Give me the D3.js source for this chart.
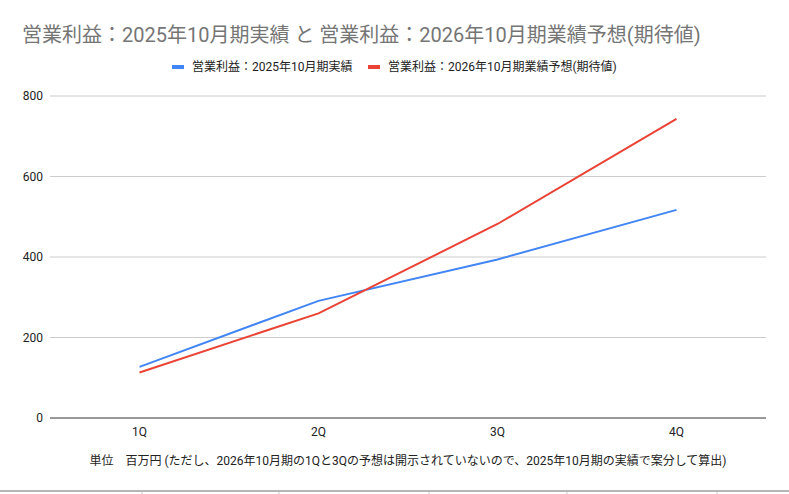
<!DOCTYPE html>
<html>
<head>
<meta charset="utf-8">
<script src="https://cdn.jsdelivr.net/npm/d3@7"></script>
<style>
  body { margin: 0; background: #fff; }
  text { font-family: Roboto, "Noto Sans CJK JP", sans-serif; }
</style>
</head>
<body>
<svg id="chart" width="789" height="494"></svg>
<script>
// data
var quarters = ['1Q', '2Q', '3Q', '4Q'];
var actual2025 = [127, 291, 394, 517];
var forecast2026 = [113, 260, 482, 743];
var yTicks = [0, 200, 400, 600, 800];
var seriesNames = ['営業利益：2025年10月期実績', '営業利益：2026年10月期業績予想(期待値)'];
var seriesColors = ['#4285f4', '#ea4335'];
var titleText = '営業利益：2025年10月期実績 と 営業利益：2026年10月期業績予想(期待値)';
var xTitle = '単位　百万円 (ただし、2026年10月期の1Qと3Qの予想は開示されていないので、2025年10月期の実績で案分して算出)';

var svg = d3.select('#chart');
var plotLeft = 50, plotRight = 766, plotTop = 96, plotBottom = 418;

var x = d3.scaleBand().domain(quarters).range([plotLeft, plotRight]);
var y = d3.scaleLinear().domain([0, 800]).range([plotBottom, plotTop]);

// title
svg.append('text')
    .attr('x', 22).attr('y', 42)
    .style('font-size', '20px')
    .style('fill', '#757575')
    .text(titleText);

// gridlines
svg.append('g').selectAll('line')
    .data(yTicks.filter(d => d > 0))
    .enter().append('line')
    .attr('x1', plotLeft).attr('x2', plotRight)
    .attr('y1', d => y(d)).attr('y2', d => y(d))
    .style('stroke', '#cccccc').style('stroke-width', 1);

// baseline
svg.append('line')
    .attr('x1', plotLeft).attr('x2', plotRight)
    .attr('y1', y(0)).attr('y2', y(0))
    .style('stroke', '#333333').style('stroke-width', 1);

// y labels
svg.append('g').selectAll('text')
    .data(yTicks)
    .enter().append('text')
    .attr('x', 43).attr('y', d => y(d) + 4)
    .attr('text-anchor', 'end')
    .style('font-size', '12px').style('fill', '#222')
    .text(d => d);

// x labels
svg.append('g').selectAll('text')
    .data(quarters)
    .enter().append('text')
    .attr('x', d => x(d) + x.bandwidth() / 2)
    .attr('y', 436)
    .attr('text-anchor', 'middle')
    .style('font-size', '12px').style('fill', '#222')
    .text(d => d);

svg.append('text')
    .attr('x', 408).attr('y', 465)
    .attr('text-anchor', 'middle')
    .style('font-size', '12px').style('fill', '#222')
    .text(xTitle);

// lines
var line = d3.line()
    .x((d, i) => x(quarters[i]) + x.bandwidth() / 2)
    .y(d => y(d));

[actual2025, forecast2026].forEach(function (vals, k) {
    svg.append('path')
        .datum(vals)
        .attr('d', line)
        .style('fill', 'none')
        .style('stroke', seriesColors[k])
        .style('stroke-width', 2);
});

// legend
var legendX = [172, 368];
seriesNames.forEach(function (name, k) {
    svg.append('rect')
        .attr('x', legendX[k]).attr('y', 65)
        .attr('width', 12).attr('height', 4)
        .style('fill', seriesColors[k]);
    svg.append('text')
        .attr('x', legendX[k] + 20).attr('y', 71)
        .style('font-size', '12px').style('fill', '#222')
        .text(name);
});

// sheet border at the bottom of the picture
svg.append('line')
    .attr('x1', 0).attr('x2', 789).attr('y1', 491).attr('y2', 491)
    .style('stroke', '#9e9e9e').style('stroke-width', 1.5);
svg.append('g').selectAll('line')
    .data([142, 279, 429, 567, 717])
    .enter().append('line')
    .attr('x1', d => d).attr('x2', d => d)
    .attr('y1', 492).attr('y2', 494)
    .style('stroke', '#cccccc');
</script>
</body>
</html>
